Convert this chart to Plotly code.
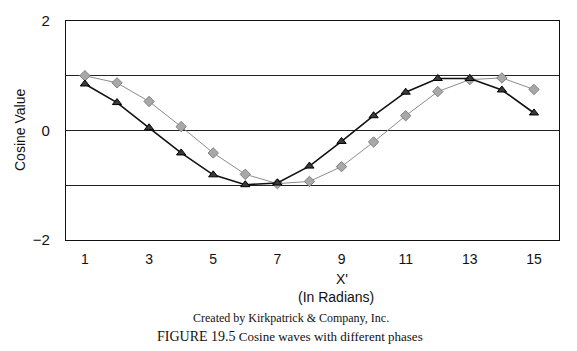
import plotly.graph_objects as go

x_vals = list(range(1, 16))
grey_series = [1.00, 0.87, 0.53, 0.07, -0.41, -0.80, -0.97, -0.93, -0.66, -0.21, 0.27, 0.71, 0.93, 0.96, 0.75]
black_series = [0.85, 0.51, 0.05, -0.41, -0.81, -0.99, -0.96, -0.65, -0.20, 0.27, 0.70, 0.95, 0.95, 0.74, 0.32]
x_ticks = [1, 3, 5, 7, 9, 11, 13, 15]
y_ticks = [-2, 0, 2]
y_tick_text = ["\u22122", "0", "2"]

W, H = 577, 351
L, R, T, B = 66, 18, 17, 111
pw = W - L - R
ph = H - T - B

def px(x):
    return (x - L) / pw

def py(y):
    return (H - B - y) / ph

fig = go.Figure()
fig.add_trace(go.Scatter(
    x=x_vals, y=grey_series, mode="lines+markers",
    line=dict(color="#8c8c8c", width=1),
    marker=dict(symbol="diamond", size=8, color="#a8a8a8", line=dict(color="#808080", width=1)),
    showlegend=False))
fig.add_trace(go.Scatter(
    x=x_vals, y=black_series, mode="lines+markers",
    line=dict(color="#111111", width=1.6),
    marker=dict(symbol="triangle-up", size=8, color="#3a3a3a", line=dict(color="#000000", width=1)),
    showlegend=False))

font = "Liberation Sans, Arial, sans-serif"
fig.update_layout(
    width=W, height=H,
    margin=dict(l=L, r=R, t=T, b=B),
    paper_bgcolor="white", plot_bgcolor="white",
    font=dict(family=font, size=14, color="#111111"),
    xaxis=dict(range=[0.41, 15.78], tickvals=x_ticks, ticktext=[str(v) for v in x_ticks],
               showgrid=False, zeroline=False, showline=True, mirror=True,
               linecolor="#111111", linewidth=1.2, ticks="", ticklabelstandoff=6,
               tickfont=dict(size=14)),
    yaxis=dict(range=[-2, 2], tickvals=y_ticks, ticktext=y_tick_text,
               showgrid=True, gridcolor="#222222", gridwidth=1,
               minor=dict(dtick=1, showgrid=True, gridcolor="#222222", gridwidth=1),
               zeroline=False, showline=True, mirror=True,
               linecolor="#111111", linewidth=1.2, ticks="", ticklabelstandoff=12,
               tickfont=dict(size=15)),
)

serif = "Liberation Serif, Times New Roman, serif"
anns = [
    dict(text="Cosine Value", x=px(20), y=py(128), textangle=-90, font=dict(size=14, family=font)),
    dict(text="X'", x=px(342), y=py(280), font=dict(size=14, family=font)),
    dict(text="(In Radians)", x=px(336), y=py(298), font=dict(size=14, family=font)),
    dict(text="Created by Kirkpatrick &amp; Company, Inc.", x=px(291), y=py(319),
         font=dict(size=12, family=serif)),
    dict(text="<span style='font-size:14px'>FIGURE 19.5</span> Cosine waves with different phases",
         x=px(290), y=py(338), font=dict(size=13, family=serif)),
]
for a in anns:
    fig.add_annotation(xref="paper", yref="paper", showarrow=False,
                       xanchor="center", yanchor="middle", **a)

fig.write_html("out.html")
